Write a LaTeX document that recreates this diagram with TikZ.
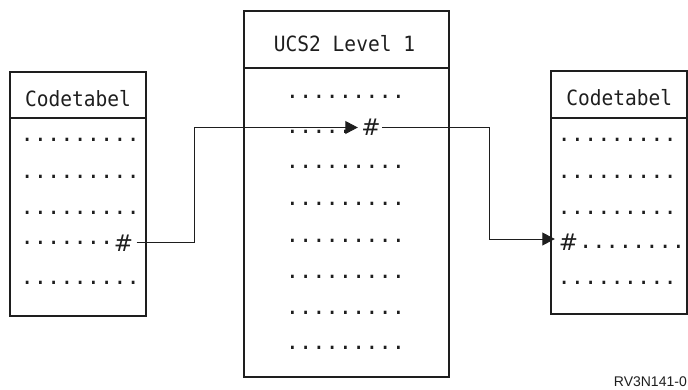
\documentclass[tikz,border=0pt]{standalone}
\usepackage{fontspec}
\usetikzlibrary{arrows.meta}
\newfontfamily\monofnt{DejaVu Sans Mono}
\newfontfamily\hashfnt{DejaVu Sans}
\newfontfamily\labfnt{Liberation Sans}
\definecolor{ink}{HTML}{1E1E1E}
\newcommand\dotrow[1]{\foreach \i in {1,...,#1}{\makebox[13.25pt]{.}}}
\tikzset{
  box/.style={draw=ink, line width=1.3pt, rectangle, inner sep=0pt},
  sep/.style={draw=ink, line width=1.3pt},
  hdr/.style={inner sep=0pt, anchor=base, text=ink, font=\monofnt\fontsize{21}{21}\selectfont},
  drow/.style={inner sep=0pt, anchor=base west, text=ink, font=\monofnt\fontsize{22}{22}\selectfont},
  hashnode/.style={inner sep=0pt, text=ink, font=\hashfnt\fontsize{23}{23}\selectfont},
  conn/.style={draw=ink, line width=0.9pt},
  tip/.style={-{Triangle[length=12.5pt,width=13pt]}}
}
\newcommand\hashmark{\makebox[12pt]{\#}}
\begin{document}
\begin{tikzpicture}[x=1pt,y=-1pt]
\useasboundingbox (0,0) rectangle (688,389);
% boxes
\node[box, minimum width=136pt, minimum height=244pt] (L) at (78,194) {};
\node[box, minimum width=205pt, minimum height=366pt] (M) at (346.5,194) {};
\node[box, minimum width=136pt, minimum height=243pt] (R) at (619,192.5) {};
\draw[sep] (L.west |- 0,118) -- (L.east |- 0,118);
\draw[sep] (M.west |- 0,68) -- (M.east |- 0,68);
\draw[sep] (R.west |- 0,118) -- (R.east |- 0,118);
% headers
\node[hdr] (Lt) at (78,106) {\scalebox{0.93}[1]{Codetabel}};
\node[hdr] (Mt) at (344.5,51) {\scalebox{0.93}[1]{UCS2 Level 1}};
\node[hdr] (Rt) at (619.3,105.7) {\scalebox{0.93}[1]{Codetabel}};
% left dot rows
\node[drow] (l1) at (20.4,141.8) {\dotrow{9}};
\node[drow] (l2) at (20.4,178.8) {\dotrow{9}};
\node[drow] (l3) at (20.4,214.8) {\dotrow{9}};
\node[drow] (l4) at (20.4,244.8) {\dotrow{7}};
\node[drow] (l5) at (20.4,284.8) {\dotrow{9}};
\node[hashnode] (h1) at (123.5,243) {\hashmark};
% middle dot rows
\node[drow] (m1) at (285.7,98.5) {\dotrow{9}};
\node[drow] (m2) at (285.7,133.3) {\dotrow{5}};
\node[drow] (m3) at (285.7,168.5) {\dotrow{9}};
\node[drow] (m4) at (285.7,205.8) {\dotrow{9}};
\node[drow] (m5) at (285.7,242.5) {\dotrow{9}};
\node[drow] (m6) at (285.7,278.5) {\dotrow{9}};
\node[drow] (m7) at (285.7,314.1) {\dotrow{9}};
\node[drow] (m8) at (285.7,349.8) {\dotrow{9}};
\node[hashnode] (h2) at (371,127.5) {\hashmark};
% right dot rows
\node[drow] (r1) at (557.4,141.8) {\dotrow{9}};
\node[drow] (r2) at (557.4,178.5) {\dotrow{9}};
\node[drow] (r3) at (557.4,214.5) {\dotrow{9}};
\node[drow] (r4) at (579,248.3) {\dotrow{8}};
\node[drow] (r5) at (557.4,284.8) {\dotrow{9}};
\node[hashnode] (h3) at (568.5,242.5) {\hashmark};
% connectors
\draw[conn, tip] ([xshift=7pt,yshift=1pt]h1.east) -- ++(57.5,0) |- ([xshift=-7pt]h2.west);
\draw[conn, tip] ([xshift=5pt]h2.east) -- ++(107,0) |- ([xshift=-7.5pt,yshift=3.5pt]h3.west);
% label
\node[inner sep=0pt, anchor=base east, text=ink, font=\labfnt\fontsize{14}{14}\selectfont] (lab) at (687,386.5) {RV3N141-0};
\end{tikzpicture}
\end{document}
